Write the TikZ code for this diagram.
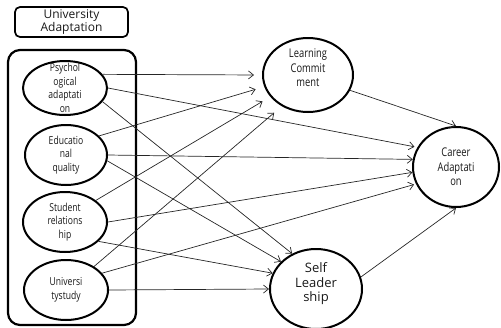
\documentclass[tikz,border=0pt]{standalone}
\usepackage{fontspec}
\setmainfont{Open Sans}
\newfontfamily\narrowfont[FakeStretch=0.78]{Open Sans}
\usepackage{tikz}
\usetikzlibrary{arrows.meta,shapes.geometric}

\begin{document}
\begin{tikzpicture}[x=1pt, y=-1pt,
  factor/.style={ellipse, draw=black, line width=2pt, inner sep=0pt},
  narrow/.style={align=center, text=black!90, font=\narrowfont\fontsize{11}{13.5}\selectfont},
  wide/.style={align=center, text=black!90, font=\fontsize{13}{14.5}\selectfont},
  title/.style={rectangle, draw=black, line width=1.7pt, rounded corners=5pt,
    align=center, minimum width=113pt, minimum height=30pt, inner sep=0pt,
    text=black!90, font=\fontsize{12}{13}\selectfont},
  arrow/.style={-{Straight Barb[length=5pt,width=8pt]}, black!85, line width=0.7pt}
]
\useasboundingbox (0,0) rectangle (501,327);

\node (ua) [title] at (71.5,22) {University\\Adaptation};
\draw[line width=2.2pt, rounded corners=12pt] (8,50) rectangle (136,325);

\node (pa) [factor, minimum width=84pt, minimum height=54pt,
  label={[narrow]center:Psychol\\ogical\\adaptati\\on}] at (65,88) {};
\node (eq) [factor, minimum width=82pt, minimum height=60pt,
  label={[narrow]center:Educatio\\nal\\quality}] at (66,155) {};
\node (sr) [factor, minimum width=84pt, minimum height=60pt,
  label={[narrow]center:Student\\relations\\hip}] at (65,222) {};
\node (us) [factor, minimum width=84pt, minimum height=60pt,
  label={[narrow]center:Universi\\tystudy}] at (66,290) {};

\node (lc) [factor, minimum width=90pt, minimum height=74pt,
  label={[narrow, font=\narrowfont\fontsize{12}{14.5}\selectfont, yshift=7pt]center:Learning\\Commit\\ment}] at (308,75) {};
\node (ca) [factor, minimum width=86pt, minimum height=80pt,
  label={[narrow, font=\narrowfont\fontsize{12}{14.5}\selectfont]center:Career\\Adaptati\\on}] at (456,167) {};
\node (sl) [factor, minimum width=92pt, minimum height=80pt,
  label={[wide, yshift=5pt]center:Self\\Leader\\ship}] at (316,289) {};

\draw[arrow, shorten >=8pt] (pa.20) -- (lc.180);
\draw[arrow, shorten >=3pt] (pa.0) -- (ca.153);
\draw[arrow] (pa.-20) -- (sl.124);
\draw[arrow, shorten >=9pt] (eq.30) -- (lc.195);
\draw[arrow] (eq.0) -- (ca.170);
\draw[arrow] (eq.-8) -- (sl.142);
\draw[arrow, shorten >=9pt] (sr.35) -- (lc.210);
\draw[arrow] (sr.0) -- (ca.187);
\draw[arrow] (sr.-30) -- (sl.160);
\draw[arrow, shorten >=10pt] (us.40) -- (lc.230);
\draw[arrow, shorten >=2pt] (us.25) -- (ca.203);
\draw[arrow] (us.0) -- (sl.180);
\draw[arrow] (lc.-20) -- (ca.90);
\draw[arrow] (sl.15) -- (ca.270);
\end{tikzpicture}
\end{document}
